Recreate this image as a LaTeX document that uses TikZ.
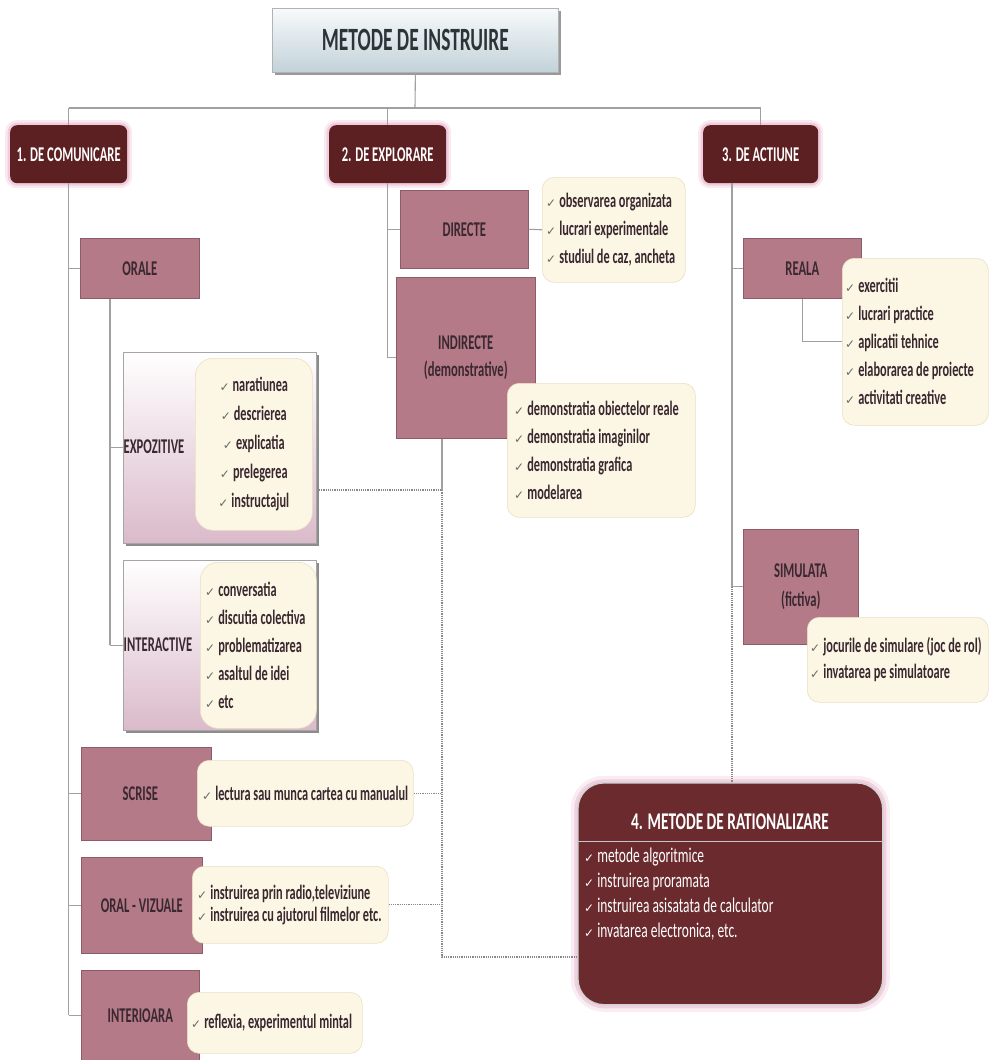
\documentclass[tikz,border=0pt]{standalone}
\usepackage{fontspec}
\setmainfont{Carlito}[FakeStretch=0.6]
\newfontfamily\widefont{Carlito}[FakeStretch=0.64]
\newfontfamily\symfont{DejaVu Sans}
\usetikzlibrary{shadows,calc}

\definecolor{mauve}{RGB}{180,122,136}
\definecolor{mauveedge}{RGB}{140,92,104}
\definecolor{boxtext}{RGB}{58,40,48}
\definecolor{hdr}{RGB}{92,32,35}
\definecolor{ratio}{RGB}{106,42,46}
\definecolor{glowpink}{RGB}{228,160,190}
\definecolor{cream}{RGB}{252,246,228}
\definecolor{creamedge}{RGB}{236,224,194}
\definecolor{wire}{RGB}{160,160,160}
\definecolor{ticks}{RGB}{105,105,105}
\definecolor{titletop}{RGB}{247,250,251}
\definecolor{titlebot}{RGB}{194,210,217}
\definecolor{titletext}{RGB}{45,52,56}
\definecolor{panelbot}{RGB}{218,186,202}

% small check mark in front of every list item
\newcommand{\ck}{{\symfont\fontsize{12}{12}\selectfont\textcolor{ticks}{✓}}\hspace{3pt}}
\newcommand{\wck}{{\symfont\fontsize{12}{12}\selectfont ✓}\hspace{3pt}}

\tikzset{
  wire/.style={draw=wire, line width=1.1pt},
  dotwire/.style={draw=wire!85!black, line width=1.3pt, dash pattern=on 1.2pt off 1pt},
  dims/.style 2 args={minimum width=#1pt, minimum height=#2pt},
  catbox/.style={fill=mauve, draw=mauveedge, line width=0.6pt, inner sep=0pt,
    anchor=north west, font=\fontsize{21}{27}\selectfont\bfseries, text=boxtext, align=center},
  listbox/.style={fill=cream, draw=creamedge, line width=0.6pt, rounded corners=12pt,
    anchor=north west, inner sep=0pt},
  listtext/.style={anchor=west, inner sep=0pt, align=left,
    font=\fontsize{20.5}{28}\selectfont\bfseries, text=boxtext},
  header/.style={fill=hdr, rounded corners=7pt, anchor=north west, inner sep=0pt,
    text=white, font=\fontsize{21}{24}\selectfont\bfseries,
    preaction={draw=glowpink, line width=10pt, opacity=0.22},
    preaction={draw=glowpink, line width=5pt, opacity=0.4}},
  panel/.style={top color=white, bottom color=panelbot, draw=gray!70, line width=0.8pt,
    anchor=north west, inner sep=0pt,
    drop shadow={shadow xshift=2.5pt, shadow yshift=-2.5pt, fill=black, opacity=0.45}},
  panellabel/.style={font=\fontsize{21}{24}\selectfont\bfseries, text=boxtext},
  titlebox/.style={top color=titletop, bottom color=titlebot, draw=gray!60, line width=0.8pt,
    anchor=north west, inner sep=0pt, text=titletext, font=\fontsize{32.5}{35}\selectfont\bfseries,
    drop shadow={shadow xshift=2.5pt, shadow yshift=-2.5pt, fill=black, opacity=0.4}},
  ratiobox/.style={fill=ratio, draw=gray!35, line width=1.6pt, rounded corners=26pt,
    anchor=north west, inner sep=0pt,
    preaction={draw=glowpink, line width=14pt, opacity=0.2},
    preaction={draw=glowpink, line width=7pt, opacity=0.35}},
}

\begin{document}
\begin{tikzpicture}[x=1pt,y=-1pt]
\fill[white] (0,0) rectangle (989,1060);
\useasboundingbox (0,0) rectangle (989,1060);

% ---------- title and the three families ----------
\node[titlebox, dims={286}{64}] (title) at (272,8) {METODE DE INSTRUIRE};

\node[header, dims={117}{58}] (h1) at (10,125) {1. DE COMUNICARE};
\node[header, dims={117}{58}] (h2) at (329,125) {2. DE EXPLORARE};
\node[header, dims={115}{58}] (h3) at (703,125) {3. DE ACTIUNE};

% ---------- 1. communication methods ----------
\node[catbox, dims={119}{60}] (orale) at (80,238) {ORALE};

\node[panel, dims={193}{191}] (expoz) at (123,352) {};
\node[panellabel] (expozlbl) at (154,447) {EXPOZITIVE};
\node[listbox, dims={117}{172}, rounded corners=18pt] (explist) at (195,358) {};
\node[listtext, anchor=center, align=center, font=\fontsize{20.5}{29}\selectfont\bfseries] (explist-t) at (explist.center)
  {\ck naratiunea\\ \ck descrierea\\ \ck explicatia\\ \ck prelegerea\\ \ck instructajul};

\node[panel, dims={193}{170}] (inter) at (123,560) {};
\node[panellabel] (interlbl) at (158,645) {INTERACTIVE};
\node[listbox, dims={116}{166}, rounded corners=18pt] (interlist) at (200,562) {};
\node[listtext] (interlist-t) at ($(interlist.west)+(5,0)$)
  {\ck conversatia\\ \ck discutia colectiva\\ \ck problematizarea\\ \ck asaltul de idei\\ \ck etc};

\node[catbox, dims={130}{93}] (scrise) at (81,747) {SCRISE\hspace*{12pt}};
\node[listbox, dims={216}{66}] (slist) at (197,760) {};
\node[listtext] (slist-t) at ($(slist.west)+(5,0)$) {\ck lectura sau munca cartea cu manualul};

\node[catbox, dims={121}{96}] (oralviz) at (81,857) {ORAL - VIZUALE};
\node[listbox, dims={196}{77}] (ovlist) at (192,866) {};
\node[listtext, font=\fontsize{20.5}{22}\selectfont\bfseries] (ovlist-t) at ($(ovlist.west)+(5,0)$)
  {\ck instruirea prin radio,televiziune\\ \ck instruirea cu ajutorul filmelor etc.};

\node[catbox, dims={118}{90}] (interioara) at (81,970) {INTERIOARA};
\node[listbox, dims={175}{61}] (intlist) at (187,992) {};
\node[listtext] (intlist-t) at ($(intlist.west)+(4,0)$) {\ck reflexia, experimentul mintal};

% ---------- 2. exploration methods ----------
\node[catbox, dims={128}{78}] (directe) at (400,190) {DIRECTE};
\node[listbox, dims={143}{105}] (dlist) at (542,177) {};
\node[listtext] (dlist-t) at ($(dlist.west)+(4,0)$)
  {\ck observarea organizata\\ \ck lucrari experimentale\\ \ck studiul de caz, ancheta};

\node[catbox, dims={139}{161}] (indir) at (396,277) {INDIRECTE\\(demonstrative)};
\node[listbox, dims={188}{134}] (ilist) at (507,383) {};
\node[listtext] (ilist-t) at ($(ilist.west)+(7,0)$)
  {\ck demonstratia obiectelor reale\\ \ck demonstratia imaginilor\\ \ck demonstratia grafica\\ \ck modelarea};

% ---------- 3. action methods ----------
\node[catbox, dims={118}{60}] (reala) at (743,238) {REALA};
\node[listbox, dims={146}{167}] (rlist) at (842,258) {};
\node[listtext] (rlist-t) at ($(rlist.west)+(3,0)$)
  {\ck exercitii\\ \ck lucrari practice\\ \ck aplicatii tehnice\\ \ck elaborarea de proiecte\\ \ck activitati creative};

\node[catbox, dims={115}{115}, font=\fontsize{21}{29}\selectfont\bfseries] (sim) at (743,529) {SIMULATA\\(fictiva)};
\node[listbox, dims={181}{85}] (simlist) at (807,617) {};
\node[listtext, font=\fontsize{20.5}{26}\selectfont\bfseries] (simlist-t) at ($(simlist.west)+(3,0)$)
  {\ck jocurile de simulare (joc de rol)\\ \ck invatarea pe simulatoare};

% ---------- 4. rationalisation methods ----------
\node[ratiobox, dims={305}{222}] (r4) at (577,782) {};
\node[text=white, font=\widefont\fontsize{24}{27}\selectfont\bfseries] (r4title) at (730,822) {4. METODE DE RATIONALIZARE};
\draw[gray!45, line width=1pt] ($(r4.north west)+(0,59)$) -- ($(r4.north east)+(0,59)$);
\node[anchor=north west, inner sep=0pt, align=left, text=white, font=\widefont\fontsize{21}{25}\selectfont] (r4items) at (584,848)
  {\wck metode algoritmice\\ \wck instruirea proramata\\ \wck instruirea asisatata de calculator\\ \wck invatarea electronica, etc.};

% ---------- connectors ----------
\coordinate (topbar) at (415,108);
\draw[wire] (title.south) -- (topbar);
\draw[wire] (h1.north |- topbar) -- (h3.north |- topbar);
\foreach \h in {h1,h2,h3} \draw[wire] (\h.north |- topbar) -- (\h.north);

\draw[wire] (h1.south) -- (h1.south |- interioara.west);
\foreach \b in {orale,scrise,oralviz,interioara} \draw[wire] (h1.south |- \b.west) -- (\b.west);
\coordinate (ostem) at ($(orale.south west)+(30,0)$);
\draw[wire] (ostem) -- (ostem |- inter.west);
\draw[wire] (ostem |- expoz.west) -- (expoz.west);
\draw[wire] (ostem |- inter.west) -- (inter.west);

\draw[wire] (h2.south) -- (h2.south |- indir.west);
\draw[wire] (h2.south |- directe.west) -- (directe.west);
\draw[wire] (h2.south |- indir.west) -- (indir.west);
\draw[wire] (directe.east) -- (dlist.west);

\coordinate (dj) at (442,490);
\coordinate (db) at (442,957);
\draw[wire] (indir.south -| dj) -- (dj);
\draw[dotwire] (expoz.east |- dj) -- (dj) -- (db) -- (db -| r4.west);
\draw[dotwire] (slist.east) -- (slist.east -| dj);
\draw[dotwire] (ovlist.east) -- (ovlist.east -| dj);

\coordinate (t3) at ($(h3.south west)+(29,0)$);
\draw[wire] (t3) -- (t3 |- sim.west) -- (sim.west);
\draw[wire] (t3 |- reala.west) -- (reala.west);
\draw[dotwire] (t3 |- sim.west) -- (t3 |- r4.north);
\draw[wire] (reala.south) -- (reala.south |- rlist.west) -- (rlist.west);
\end{tikzpicture}
\end{document}
